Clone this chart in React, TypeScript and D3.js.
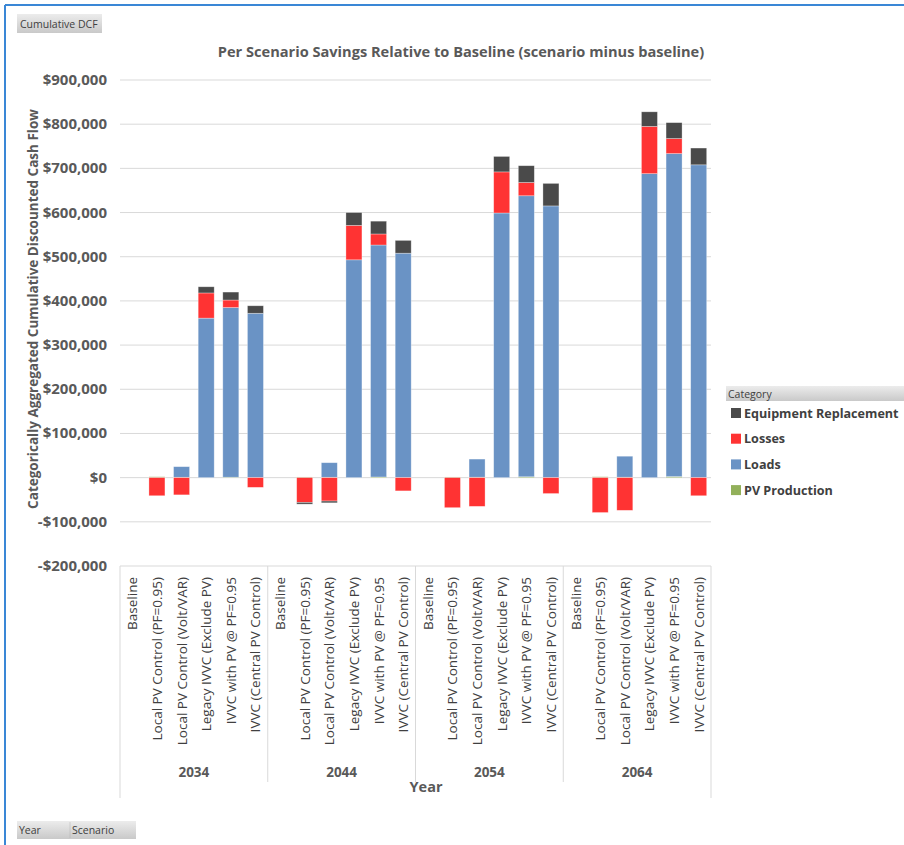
import React from 'react';
import * as d3 from 'd3';

// categories
const years = ['2034', '2044', '2054', '2064'];
const scenarios = [
  'Baseline',
  'Local PV Control (PF=0.95)',
  'Local PV Control (Volt/VAR)',
  'Legacy IVVC (Exclude PV)',
  'IVVC with PV @ PF=0.95',
  'IVVC (Central PV Control)',
];

// series values, 6 scenarios per year, years in order
const pvProduction = [0, 2000, 800, 0, 1000, 0, 0, 1500, 800, 0, 1500, 0, 0, 1500, 1000, 0, 2000, 0, 0, 2000, 1000, 0, 2500, 0];
const loads = [0, 0, 24000, 361000, 384000, 372000, 0, 0, 33000, 493000, 525000, 508000, 0, 0, 41000, 599000, 636000, 615000, 0, 0, 47500, 688000, 731000, 708000];
const losses = [0, -41000, -39000, 57000, 17000, -22000, 0, -56000, -53000, 78000, 25000, -30000, 0, -68000, -65000, 93000, 30000, -36000, 0, -79000, -74000, 107000, 34000, -41000];
const equipment = [0, 0, 0, 14000, 18000, 17000, 0, -4000, -4000, 29000, 29000, 29000, 0, 0, 0, 35000, 38000, 51000, 0, 0, 0, 33000, 36000, 38000];

const yTicks = [-200000, -100000, 0, 100000, 200000, 300000, 400000, 500000, 600000, 700000, 800000, 900000];

const seriesKeys = ['pv', 'loads', 'losses', 'equip'];
const seriesNames: Record<string, string> = {
  equip: 'Equipment Replacement',
  losses: 'Losses',
  loads: 'Loads',
  pv: 'PV Production',
};
const colors: Record<string, string> = {
  equip: '#4a4a4a',
  losses: '#ff3333',
  loads: '#6a93c5',
  pv: '#92b05a',
};
const legendOrder = ['equip', 'losses', 'loads', 'pv'];

const FONT = '"Open Sans", sans-serif';
const TXT = '#595959';

const App = () => {
  const left = 120;
  const right = 711;
  const top = 80;
  const bottom = 566;

  const rows = years.flatMap((yr, i) =>
    scenarios.map((sc, j) => {
      const k = i * scenarios.length + j;
      return {
        key: yr + '|' + sc,
        year: yr,
        scenario: sc,
        pv: pvProduction[k],
        loads: loads[k],
        losses: losses[k],
        equip: equipment[k],
      };
    })
  );

  const x = d3
    .scaleBand<string>()
    .domain(rows.map((r) => r.key))
    .range([left, right])
    .paddingInner(0.35)
    .paddingOuter(0.175);

  const y = d3.scaleLinear().domain([-200000, 900000]).range([bottom, top]);

  const stacked = d3
    .stack<any>()
    .keys(seriesKeys)
    .offset(d3.stackOffsetDiverging)(rows);

  const fmt = (v: number) => (v < 0 ? '-' : '') + '$' + d3.format(',')(Math.abs(v));

  const groupW = (right - left) / years.length;
  const labelBottom = 782;

  return (
    <div style={{ position: 'absolute', left: 0, top: 0 }}>
      <svg width={904} height={845} style={{ display: 'block', background: '#fff' }}>
        <defs>
          <linearGradient id="btn" x1="0" y1="0" x2="0" y2="1">
            <stop offset="0" stopColor="#ececec" />
            <stop offset="1" stopColor="#c9c9c9" />
          </linearGradient>
        </defs>

        {/* outer frame */}
        <line x1={5} y1={5} x2={904} y2={5} stroke="#3a87d6" strokeWidth={2} />
        <line x1={5} y1={5} x2={5} y2={845} stroke="#3a87d6" strokeWidth={2} />

        {/* field buttons */}
        <rect x={17} y={14} width={85} height={19} fill="url(#btn)" />
        <text x={20} y={27.5} fontFamily={FONT} fontSize={10.5} fill="#404040">Cumulative DCF</text>

        <rect x={17} y={821} width={119} height={18} fill="url(#btn)" />
        <line x1={70} y1={822} x2={70} y2={838} stroke="#b0b0b0" strokeWidth={0.5} />
        <text x={19} y={834} fontFamily={FONT} fontSize={10.5} fill="#404040">Year</text>
        <text x={72} y={834} fontFamily={FONT} fontSize={10.5} fill="#404040">Scenario</text>

        {/* title */}
        <text x={461} y={57} textAnchor="middle" fontFamily={FONT} fontSize={14.6} fontWeight="bold" fill={TXT}>
          Per Scenario Savings Relative to Baseline (scenario minus baseline)
        </text>

        {/* gridlines and y ticks */}
        {yTicks.map((t) => (
          <g key={t}>
            <line x1={left} x2={right} y1={y(t)} y2={y(t)} stroke="#d9d9d9" strokeWidth={1} />
            <text x={107} y={y(t) + 5} textAnchor="end" fontFamily={FONT} fontSize={15} fontWeight="bold" fill={TXT}>
              {fmt(t)}
            </text>
          </g>
        ))}

        {/* y axis title */}
        <text
          transform={`translate(38,${(top + bottom) / 2 - 14}) rotate(-90)`}
          textAnchor="middle"
          fontFamily={FONT}
          fontSize={13.5}
          fontWeight="bold"
          fill={TXT}
        >
          Categorically Aggregated Cumulative Discounted Cash Flow
        </text>

        {/* bars */}
        {stacked.map((s) => (
          <g key={s.key} fill={colors[s.key]}>
            {s.map((d: any) => {
              const h = Math.abs(y(d[0]) - y(d[1]));
              if (h < 0.01) return null;
              return (
                <rect
                  key={d.data.key}
                  x={x(d.data.key)}
                  y={Math.min(y(d[0]), y(d[1]))}
                  width={x.bandwidth()}
                  height={h}
                  stroke="#ffffff"
                  strokeOpacity={0.45}
                  strokeWidth={0.7}
                />
              );
            })}
          </g>
        ))}

        {/* category axis */}
        {years.map((yr, i) => {
          const gx = left + i * groupW;
          return (
            <g key={yr}>
              <line x1={gx} x2={gx} y1={bottom} y2={i === 0 ? 798 : labelBottom} stroke="#d9d9d9" />
              <text x={gx + groupW / 2} y={777} textAnchor="middle" fontFamily={FONT} fontSize={13.5} fontWeight="bold" fill={TXT}>
                {yr}
              </text>
            </g>
          );
        })}
        <line x1={right} x2={right} y1={bottom} y2={798} stroke="#d9d9d9" />

        {rows.map((r) => (
          <text
            key={r.key}
            transform={`translate(${(x(r.key) as number) + x.bandwidth() / 2 + 5},577) rotate(-90)`}
            textAnchor="end"
            fontFamily={FONT}
            fontSize={13.5}
            fill="#404040"
          >
            {r.scenario}
          </text>
        ))}

        <text x={426} y={792} textAnchor="middle" fontFamily={FONT} fontSize={14.5} fontWeight="bold" fill={TXT}>
          Year
        </text>

        {/* legend */}
        <rect x={726} y={386} width={178} height={15} fill="url(#btn)" />
        <text x={728} y={397.5} fontFamily={FONT} fontSize={10.5} fill="#404040">Category</text>
        {legendOrder.map((k, i) => (
          <g key={k} transform={`translate(731,${413 + i * 25.7})`}>
            <rect x={0} y={-5} width={10} height={10} fill={colors[k]} />
            <text x={13} y={4.5} fontFamily={FONT} fontSize={12.6} fontWeight="bold" fill="#404040">
              {seriesNames[k]}
            </text>
          </g>
        ))}
      </svg>
    </div>
  );
};

export default App;
